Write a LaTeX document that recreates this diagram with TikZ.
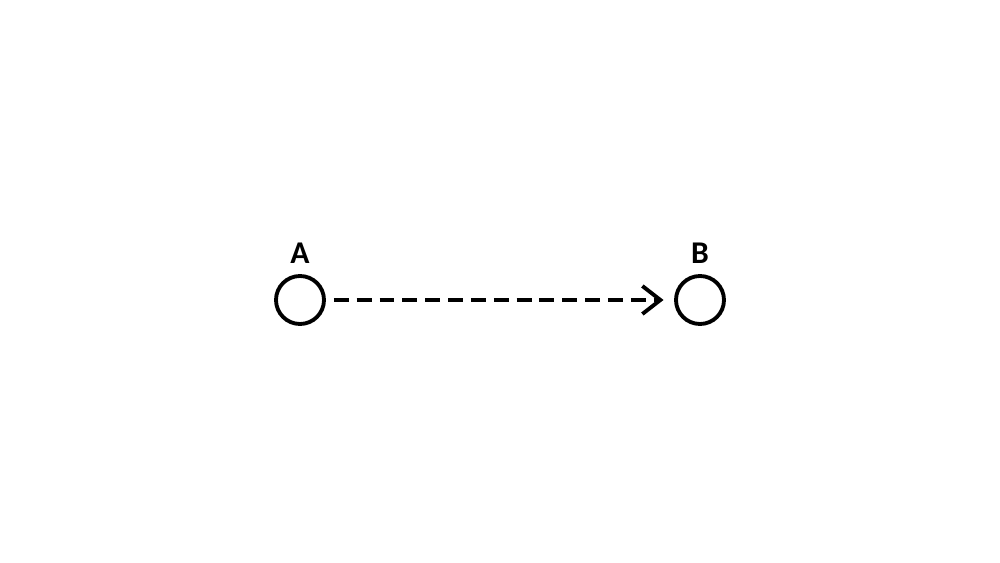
\documentclass[tikz,border=0pt]{standalone}
\usepackage{fontspec}
\setmainfont{Carlito}
\usetikzlibrary{positioning,arrows.meta}

\begin{document}
\begin{tikzpicture}[
    pt/.style={circle,draw,line width=2.2pt,minimum size=0.96cm,inner sep=0pt},
    ptname/.style={font=\fontsize{18}{21}\selectfont\bfseries,inner sep=0pt}
  ]
    \useasboundingbox (0,0) rectangle (20,11.26);

    \node[pt] (A) at (6,5.26) {};
    \node[pt] (B) at (14,5.26) {};

    \node[ptname,above=0.2cm of A] (nameA) {A};
    \node[ptname,above=0.2cm of B] (nameB) {B};

    \draw[line width=2.2pt,dash pattern=on 8.5pt off 4.5pt,dash phase=8.5pt,
          shorten >=6pt,-{Straight Barb[length=0.36cm,width=0.56cm]}] (A) -- (B);
  \end{tikzpicture}
\end{document}
